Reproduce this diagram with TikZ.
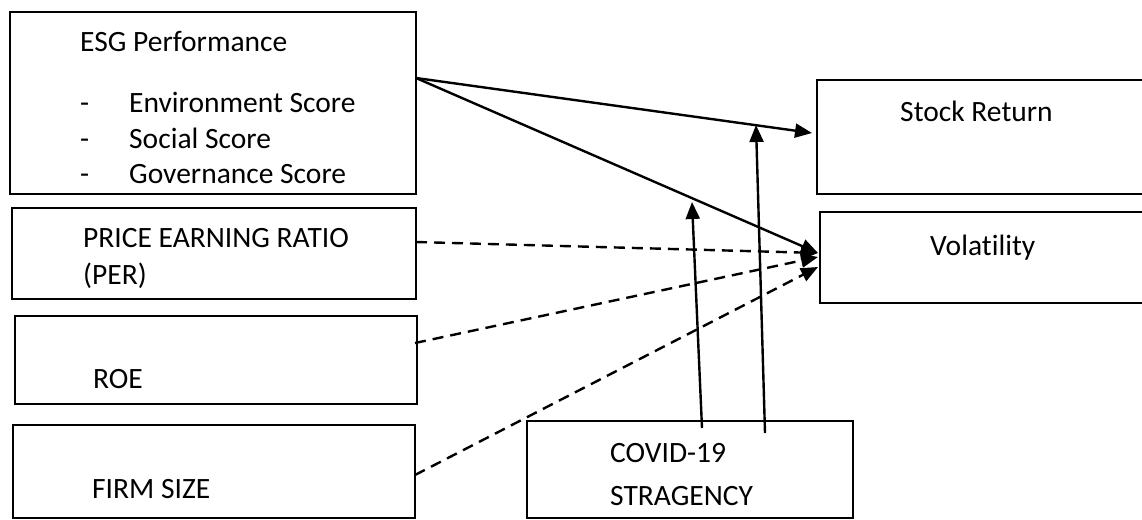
\documentclass[tikz,border=0pt]{standalone}
\usepackage{fontspec}
\setmainfont[Ligatures=NoCommon]{Carlito}
\usetikzlibrary{arrows.meta,calc}
\tikzset{
  box/.style={draw=black, line width=2pt, inner sep=0pt, outer sep=0pt, anchor=north west},
  lbl/.style={anchor=base west, inner sep=0pt, font=\fontsize{29.5}{35}\selectfont},
  conn/.style={line width=2.4pt, -{Triangle[length=17pt,width=14pt]}},
  dconn/.style={conn, dash pattern=on 11pt off 7pt},
}
\begin{document}
\begin{tikzpicture}[x=1pt,y=-1pt]
\useasboundingbox (0,0) rectangle (1142,519);
% boxes
\node[box, minimum width=406pt, minimum height=182pt] (esg) at (10,12) {};
\node[box, minimum width=404pt, minimum height=91pt] (per) at (12,208) {};
\node[box, minimum width=402pt, minimum height=88pt] (roe) at (15,316) {};
\node[box, minimum width=402pt, minimum height=93pt] (firm) at (13,425) {};
\node[box, minimum width=326pt, minimum height=97pt] (covid) at (527,421) {};
\node[box, minimum width=340pt, minimum height=114pt] (ret) at (817,80) {};
\node[box, minimum width=340pt, minimum height=91pt] (vol) at (820,212) {};
% texts
\node[lbl] (t1) at (80,52) {ESG Performance};
\node[lbl] (d1) at (80,112) {-};
\node[lbl] (t2) at (129,112) {Environment Score};
\node[lbl] (d2) at (80,148) {-};
\node[lbl] (t3) at (129,148) {Social Score};
\node[lbl] (d3) at (80,183) {-};
\node[lbl] (t4) at (129,183) {Governance Score};
\node[lbl] (t5) at (83,247) {PRICE EARNING RATIO};
\node[lbl] (t6) at (83,284) {(PER)};
\node[lbl] (t7) at (93,388) {ROE};
\node[lbl] (t8) at (92,498) {FIRM SIZE};
\node[lbl] (t9) at (610,462) {COVID-19};
\node[lbl] (t10) at (610,505) {STRAGENCY};
\node[lbl] (t11) at (900,121) {Stock Return};
\node[lbl] (t12) at (930,255) {Volatility};
% connectors
\coordinate (esgout) at ($(esg.north east)+(0,66)$);
\coordinate (retin) at ($(ret.north west)+(-5,53)$);
\coordinate (volin) at ($(vol.north west)+(-2,41)$);
\draw[conn] (esgout) -- (retin);
\draw[conn] (esgout) -- (volin);
\draw[dconn] ($(per.north east)+(0,34)$) -- (volin);
\draw[dconn] ($(roe.north east)+(-2,27)$) -- ($(vol.north west)+(-2,45)$);
\draw[dconn] ($(firm.north east)+(0,50)$) -- ($(vol.north west)+(-2,55)$);
\draw[conn] ($(covid.north west)+(175,7)$) -- ($(covid.north west)+(165,-219)$);
\draw[conn] ($(covid.north west)+(238,12)$) -- ($(covid.north west)+(229,-296)$);
\end{tikzpicture}
\end{document}
